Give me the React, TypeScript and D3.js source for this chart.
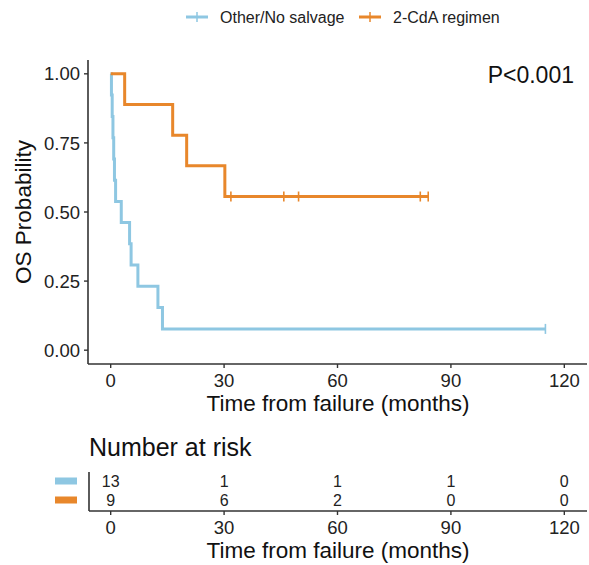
import * as d3 from "d3";

// KM step points
const blueTimes = [0, 0.2, 0.4, 0.6, 0.8, 1.0, 1.3, 2.8, 5.0, 5.4, 7.2, 12.5, 13.7, 115];
const blueSurv = [1, 0.923, 0.846, 0.769, 0.692, 0.615, 0.538, 0.462, 0.385, 0.308, 0.231, 0.154, 0.077, 0.077];
const blueCensor = [115];

const orangeTimes = [0, 3.7, 16.4, 20.1, 30.2, 84.0];
const orangeSurv = [1, 0.889, 0.778, 0.667, 0.556, 0.556];
const orangeCensor = [31.8, 45.8, 49.7, 81.9, 84.0];

const groups = ["Other/No salvage", "2-CdA regimen"];
const colors = ["#8ec7e2", "#e8872b"];

const xTicks = [0, 30, 60, 90, 120];
const yTicks = [0, 0.25, 0.5, 0.75, 1];
const blueRisk = [13, 1, 1, 1, 0];
const orangeRisk = [9, 6, 2, 0, 0];

const W = 589;
const H = 565;
const font = "'Liberation Sans', Arial, sans-serif";
const axisColor = "#333";

const App = () => {
    const x = d3.scaleLinear().domain([-6, 126]).range([88, 587]);
    const y = d3.scaleLinear().domain([-0.05, 1.05]).range([364, 60]);

    const line = d3.line<[number, number]>()
        .x(d => x(d[0]))
        .y(d => y(d[1]))
        .curve(d3.curveStepAfter);

    const series = [
        { times: blueTimes, surv: blueSurv, censor: blueCensor, color: colors[0] },
        { times: orangeTimes, surv: orangeSurv, censor: orangeCensor, color: colors[1] },
    ];

    const survAt = (times: number[], surv: number[], t: number) => {
        let s = surv[0];
        times.forEach((tt, i) => { if (tt <= t) s = surv[i]; });
        return s;
    };

    // risk table geometry
    const riskRows = [481, 500];
    const riskAxisY = 511;

    return (
        <svg width={W} height={H} style={{ position: "absolute", left: 0, top: 0 }} fontFamily={font}>
            <rect width={W} height={H} fill="white" />

            {/* legend */}
            {groups.map((g, i) => {
                const lx = i === 0 ? 186 : 359;
                return (
                    <g key={g}>
                        <line x1={lx} x2={lx + 22} y1={17} y2={17} stroke={colors[i]} strokeWidth={3} />
                        <line x1={lx + 11} x2={lx + 11} y1={12} y2={22} stroke={colors[i]} strokeWidth={1.5} />
                        <text x={lx + 34} y={23} fontSize={16} fill="#222">{g}</text>
                    </g>
                );
            })}

            {/* axes */}
            <line x1={88} x2={88} y1={60} y2={364} stroke={axisColor} strokeWidth={1.6} />
            <line x1={88} x2={587} y1={364} y2={364} stroke={axisColor} strokeWidth={1.6} />
            {yTicks.map(t => (
                <g key={t}>
                    <line x1={84} x2={88} y1={y(t)} y2={y(t)} stroke={axisColor} strokeWidth={1.4} />
                    <text x={80} y={y(t)} dy="0.36em" textAnchor="end" fontSize={18.5} fill="#222">{t.toFixed(2)}</text>
                </g>
            ))}
            {xTicks.map(t => (
                <g key={t}>
                    <line x1={x(t)} x2={x(t)} y1={364} y2={368} stroke={axisColor} strokeWidth={1.4} />
                    <text x={x(t)} y={387} textAnchor="middle" fontSize={18.5} fill="#222">{t}</text>
                </g>
            ))}
            <text x={338} y={411} textAnchor="middle" fontSize={22.5} fill="#111">Time from failure (months)</text>
            <text transform={`translate(31,212) rotate(-90)`} textAnchor="middle" fontSize={22.5} fill="#111">OS Probability</text>
            <text x={574} y={83} textAnchor="end" fontSize={23} fill="#111">P&lt;0.001</text>

            {/* curves */}
            {series.map((s, i) => (
                <g key={i}>
                    <path
                        d={line(s.times.map((t, j) => [t, s.surv[j]] as [number, number])) || ""}
                        fill="none"
                        stroke={s.color}
                        strokeWidth={3}
                    />
                    {s.censor.map((c, j) => (
                        <line key={j} x1={x(c)} x2={x(c)}
                            y1={y(survAt(s.times, s.surv, c)) - 5}
                            y2={y(survAt(s.times, s.surv, c)) + 5}
                            stroke={s.color} strokeWidth={1.6} />
                    ))}
                </g>
            ))}

            {/* risk table */}
            <text x={89} y={456} fontSize={25} fill="#111">Number at risk</text>
            <line x1={89} x2={89} y1={472} y2={riskAxisY} stroke={axisColor} strokeWidth={1.6} />
            <line x1={89} x2={587} y1={riskAxisY} y2={riskAxisY} stroke={axisColor} strokeWidth={1.6} />
            {[blueRisk, orangeRisk].map((row, r) => (
                <g key={r}>
                    <rect x={55} y={riskRows[r] - 3.5} width={22} height={7} fill={colors[r]} />
                    {row.map((n, j) => (
                        <text key={j} x={x(xTicks[j])} y={riskRows[r]} dy="0.36em" textAnchor="middle" fontSize={16} fill="#222">{n}</text>
                    ))}
                </g>
            ))}
            {xTicks.map(t => (
                <g key={t}>
                    <line x1={x(t)} x2={x(t)} y1={riskAxisY} y2={riskAxisY + 4} stroke={axisColor} strokeWidth={1.4} />
                    <text x={x(t)} y={534} textAnchor="middle" fontSize={18.5} fill="#222">{t}</text>
                </g>
            ))}
            <text x={338} y={558} textAnchor="middle" fontSize={22.5} fill="#111">Time from failure (months)</text>
        </svg>
    );
};

export default App;
